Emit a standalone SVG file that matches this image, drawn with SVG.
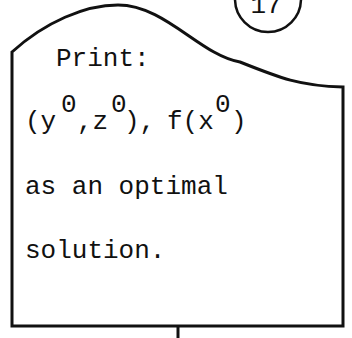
<svg xmlns="http://www.w3.org/2000/svg" width="352" height="338" viewBox="0 0 352 338">
<style>
.ln{fill:none;stroke:#111;stroke-width:3;stroke-linejoin:miter}
.t{font-family:"Liberation Mono","Courier New",monospace;font-size:26px;fill:#111}
</style>
<rect width="352" height="338" fill="#fff"/>
<g id="connector-label">
<circle cx="268" cy="-1" r="33" fill="none" stroke="#111" stroke-width="2.5"/>
<text class="t" x="266" y="13" text-anchor="middle">17</text>
</g>
<g id="print-node">
<path class="ln" d="M12,326 L12,52 C45,22 85,5 118,5 C165,5 200,55 240,62 C280,78 300,86 343,87 L343,326 Z"/>
<text class="t" x="56" y="66">Print:</text>
<text class="t" y="129"><tspan x="25">(y</tspan><tspan x="61" y="112">0</tspan><tspan x="77" y="129">,z</tspan><tspan x="111" y="112">0</tspan><tspan x="124" y="129">),</tspan><tspan x="167">f(x</tspan><tspan x="215" y="112">0</tspan><tspan x="231" y="129">)</tspan></text>
<text class="t" x="25" y="194">as an optimal</text>
<text class="t" x="25" y="258">solution.</text>
</g>
<g id="connectors">
<line x1="178" y1="326" x2="178" y2="338" stroke="#111" stroke-width="3"/>
</g>
</svg>
